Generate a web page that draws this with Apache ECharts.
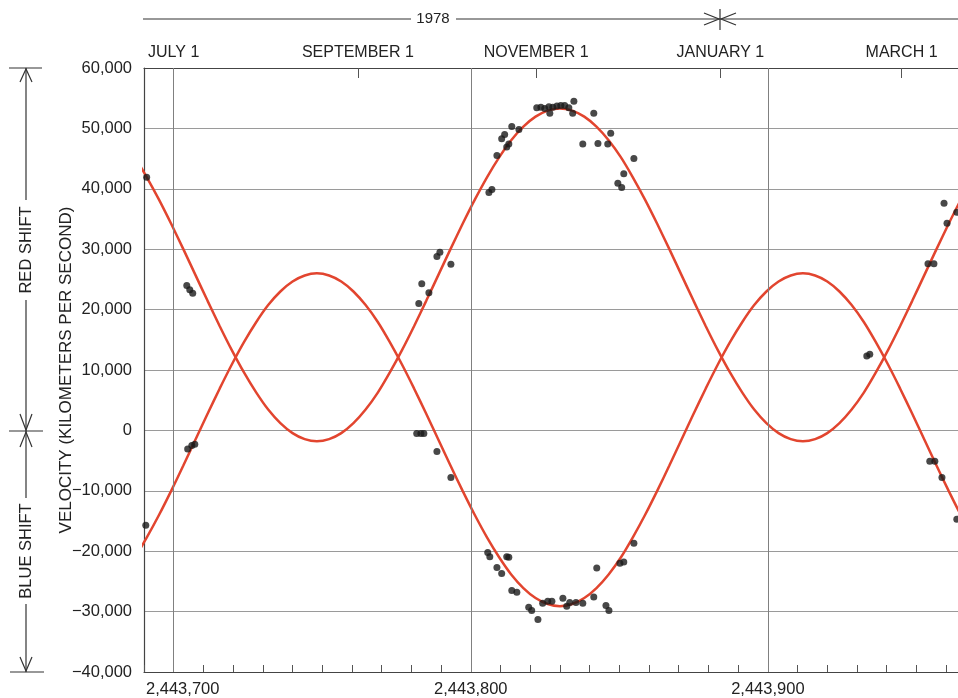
<!DOCTYPE html>
<html><head><meta charset="utf-8">
<script src="https://cdn.jsdelivr.net/npm/echarts@6/dist/echarts.min.js"></script>
<style>html,body{margin:0;padding:0;background:#fff}#c{width:958px;height:698px}</style>
</head><body><div id="c"></div>
<script>
const fitDays = [2443682.8, 2443686.9, 2443690.9, 2443695.0, 2443699.1, 2443703.2, 2443707.3, 2443711.4, 2443715.5,
  2443719.6, 2443723.7, 2443727.8, 2443731.8, 2443735.9, 2443740.0, 2443744.1, 2443748.2, 2443752.3, 2443756.4,
  2443760.5, 2443764.6, 2443768.7, 2443772.7, 2443776.8, 2443780.9, 2443785.0, 2443789.1, 2443793.2, 2443797.3,
  2443801.4, 2443805.5, 2443809.6, 2443813.6, 2443817.7, 2443821.8, 2443825.9, 2443830.0, 2443834.1, 2443838.2,
  2443842.3, 2443846.4, 2443850.5, 2443854.5, 2443858.6, 2443862.7, 2443866.8, 2443870.9, 2443875.0, 2443879.1,
  2443883.2, 2443887.3, 2443891.4, 2443895.4, 2443899.5, 2443903.6, 2443907.7, 2443911.8, 2443915.9, 2443920.0,
  2443924.1, 2443928.2, 2443932.3, 2443936.3, 2443940.4, 2443944.5, 2443948.6, 2443952.7, 2443956.8, 2443960.9,
  2443965.0, 2443969.1];
// Curve reaching +53,300 km/s
const curveUpper = [48050, 45250, 41950, 38250, 34250, 30050, 25750, 21450, 17250, 13250, 9550, 6250, 3450, 1200, -450, -1450,
  -1800,
  -1450, -450, 1200, 3450, 6250, 9550, 13250, 17250, 21450, 25750, 30050, 34250, 38250, 41950, 45250, 48050, 50300, 51950, 52950,
  53300,
  52950, 51950, 50300, 48050, 45250, 41950, 38250, 34250, 30050, 25750, 21450, 17250, 13250, 9550, 6250, 3450, 1200, -450, -1450, -1800,
  -1450, -450, 1200, 3450, 6250, 9550, 13250, 17250, 21450, 25750, 30050, 34250, 38250, 41950];
// Curve reaching -29,100 km/s
const curveLower = [-23850, -21050, -17750, -14050, -10050, -5850, -1550, 2750, 6950, 10950, 14650, 17950, 20750, 23000, 24650, 25650,
  26000,
  25650, 24650, 23000, 20750, 17950, 14650, 10950, 6950, 2750, -1550, -5850, -10050, -14050, -17750, -21050, -23850, -26100, -27750, -28750,
  -29100,
  -28750, -27750, -26100, -23850, -21050, -17750, -14050, -10050, -5850, -1550, 2750, 6950, 10950, 14650, 17950, 20750, 23000, 24650, 25650, 26000,
  25650, 24650, 23000, 20750, 17950, 14650, 10950, 6950, 2750, -1550, -5850, -10050, -14050, -17750];

// Observations (Julian day, velocity km/s)
const obsDays = [2443690.9, 2443690.6, 2443704.4, 2443705.4, 2443706.4, 2443704.7, 2443706.1, 2443707.1,
  2443782.5, 2443783.5, 2443785.9, 2443788.6, 2443789.6, 2443793.3, 2443781.8, 2443783.2, 2443784.2, 2443788.6, 2443793.3,
  2443806.1, 2443807.1, 2443808.8, 2443810.4, 2443811.4, 2443812.1, 2443812.8, 2443813.8, 2443816.2,
  2443822.2, 2443823.6, 2443824.9, 2443826.3, 2443827.6, 2443829.0, 2443831.6, 2443833.0,
  2443826.6, 2443830.3, 2443834.7, 2443834.3, 2443841.4, 2443837.7, 2443842.8, 2443846.1, 2443847.1,
  2443849.5, 2443850.8, 2443851.5, 2443854.9,
  2443805.7, 2443806.4, 2443808.8, 2443810.4, 2443812.1, 2443812.8, 2443813.8, 2443815.5, 2443819.5, 2443820.5,
  2443822.6, 2443824.2, 2443825.9, 2443827.3, 2443831.0, 2443832.3, 2443833.3, 2443835.4, 2443837.7, 2443841.4,
  2443842.4, 2443845.5, 2443846.5, 2443850.2, 2443851.5, 2443854.9,
  2443933.3, 2443934.3, 2443953.9, 2443955.9, 2443959.3, 2443960.3, 2443963.6, 2443954.5, 2443956.2, 2443958.6, 2443963.6];
const obsVel = [41900, -15700, 24000, 23300, 22700, -3100, -2500, -2300,
  21000, 24300, 22800, 28800, 29500, 27500, -500, -500, -500, -3500, -7800,
  39400, 39900, 45500, 48300, 49000, 46900, 47400, 50300, 49800,
  53400, 53500, 53300, 53600, 53500, 53700, 53800, 53400,
  52500, 53800, 54500, 52500, 52500, 47400, 47500, 47400, 49200,
  40900, 40200, 42500, 45000,
  -20200, -20900, -22700, -23700, -20900, -21000, -26500, -26800, -29300, -29800,
  -31300, -28600, -28300, -28300, -27800, -29100, -28500, -28500, -28600, -27600,
  -22800, -29000, -29800, -22000, -21800, -18700,
  12300, 12600, 27600, 27600, 37600, 34300, 36100, -5100, -5100, -7800, -14700];

const gridDays = [2443700, 2443800, 2443900];
const monthDays = [2443700, 2443762, 2443822, 2443884, 2443945];
const monthLabels = ['JULY 1', 'SEPTEMBER 1', 'NOVEMBER 1', 'JANUARY 1', 'MARCH 1'];
const yearLabel = '1978';

const FONT = '"Liberation Sans", Arial, Helvetica, sans-serif';
const TXT = '#222';
const RED = '#e2452f';
const fmt = v => String(Math.abs(v)).replace(/\B(?=(\d{3})+(?!\d))/g, ',');

const chart = echarts.init(document.getElementById('c'), null, {renderer: 'canvas'});
const xMin = 2443690, xMax = 2443964;

const ink = '#333';
const seg = (x1, y1, x2, y2) => ({type: 'line', shape: {x1, y1, x2, y2}, style: {stroke: ink, lineWidth: 1.2}, silent: true});
const arrow = pts => ({type: 'polyline', shape: {points: pts}, style: {stroke: ink, lineWidth: 1.2, fill: null}, silent: true});

chart.setOption({
  animation: false,
  backgroundColor: '#fff',
  textStyle: {fontFamily: FONT, color: TXT},
  grid: {left: 144, right: 0, top: 68, bottom: 26, outerBoundsMode: 'none'},
  xAxis: [{
    type: 'value', min: xMin, max: xMax, interval: 10, position: 'bottom',
    axisLine: {show: true, onZero: false, lineStyle: {color: '#444', width: 1.2}},
    axisTick: {show: true, inside: true, length: 7, lineStyle: {color: '#555'}, interval: 0},
    axisLabel: {interval: 0, margin: 9, fontSize: 16.5, color: TXT, fontFamily: FONT,
      rich: {first: {fontSize: 16.5, fontFamily: FONT, color: TXT, padding: [0, 0, 0, 18]}},
      formatter: v => {
        const r = Math.round(v);
        if (r % 100 !== 0 || r < gridDays[0] || r > gridDays[gridDays.length - 1]) return '';
        return r === gridDays[0] ? '{first|' + fmt(r) + '}' : fmt(r);
      }},
    splitLine: {show: false}
  }, {
    type: 'value', min: xMin, max: xMax, position: 'top',
    axisLine: {show: true, onZero: false, lineStyle: {color: '#444', width: 1.2}},
    axisTick: {show: true, inside: true, length: 10, lineStyle: {color: '#555'}, customValues: monthDays},
    axisLabel: {margin: 7, fontSize: 16, color: TXT, fontFamily: FONT, customValues: monthDays,
      formatter: v => { const i = monthDays.indexOf(Math.round(v)); return i >= 0 ? monthLabels[i] : ''; }},
    splitLine: {show: false}
  }],
  yAxis: {
    type: 'value', min: -40000, max: 60000, interval: 10000,
    name: 'VELOCITY (KILOMETERS PER SECOND)', nameLocation: 'middle', nameRotate: 90, nameGap: 69,
    nameMoveOverlap: false,
    nameTextStyle: {fontSize: 17, color: TXT, fontFamily: FONT},
    axisLine: {show: true, onZero: false, lineStyle: {color: '#444', width: 1.2}},
    axisTick: {show: false},
    axisLabel: {margin: 12, fontSize: 16.5, color: TXT, fontFamily: FONT,
      formatter: v => (v < 0 ? '\u2212' : '') + fmt(v)},
    splitLine: {show: true, lineStyle: {color: '#9a9a9a', width: 1}}
  },
  series: [{
    type: 'line', name: 'upper', smooth: 0.3, showSymbol: false, z: 3,
    data: fitDays.map((d, i) => [d, curveUpper[i]]),
    lineStyle: {color: RED, width: 2.5},
    markLine: {silent: true, symbol: ['none', 'none'], label: {show: false},
      lineStyle: {color: '#808080', width: 1, type: 'solid'},
      data: gridDays.map(d => ({xAxis: d}))}
  }, {
    type: 'line', name: 'lower', smooth: 0.3, showSymbol: false, z: 3,
    data: fitDays.map((d, i) => [d, curveLower[i]]),
    lineStyle: {color: RED, width: 2.5}
  }, {
    type: 'scatter', name: 'obs', z: 4, symbolSize: 7,
    data: obsDays.map((d, i) => [d, obsVel[i]]),
    itemStyle: {color: '#1a1a1a'}
  }],
  graphic: [
    // top year line
    seg(143, 19, 411, 19), seg(456, 19, 958, 19),
    {type: 'text', x: 433, y: 19, silent: true,
      style: {text: yearLabel, align: 'center', verticalAlign: 'middle', font: '15px ' + FONT, fill: TXT}},
    seg(720, 9, 720, 30),
    arrow([[704, 13], [719, 19], [704, 25]]),
    arrow([[736, 13], [721, 19], [736, 25]]),
    // left red/blue shift annotation
    seg(9, 68, 42, 68), seg(9, 431, 43, 431), seg(10, 672, 44, 672),
    seg(26, 68, 26, 200), seg(26, 300, 26, 498), seg(26, 604, 26, 672),
    arrow([[20, 82], [26, 69], [32, 82]]),
    arrow([[20, 414], [26, 430], [32, 414]]),
    arrow([[20, 447], [26, 432], [32, 447]]),
    arrow([[20, 657], [26, 671], [32, 657]]),
    {type: 'text', x: 26, y: 250, rotation: Math.PI / 2, silent: true,
      style: {text: 'RED SHIFT', align: 'center', verticalAlign: 'middle', font: '16.5px ' + FONT, fill: TXT}},
    {type: 'text', x: 26, y: 551, rotation: Math.PI / 2, silent: true,
      style: {text: 'BLUE SHIFT', align: 'center', verticalAlign: 'middle', font: '16.5px ' + FONT, fill: TXT}}
  ]
});
</script>
</body></html>
